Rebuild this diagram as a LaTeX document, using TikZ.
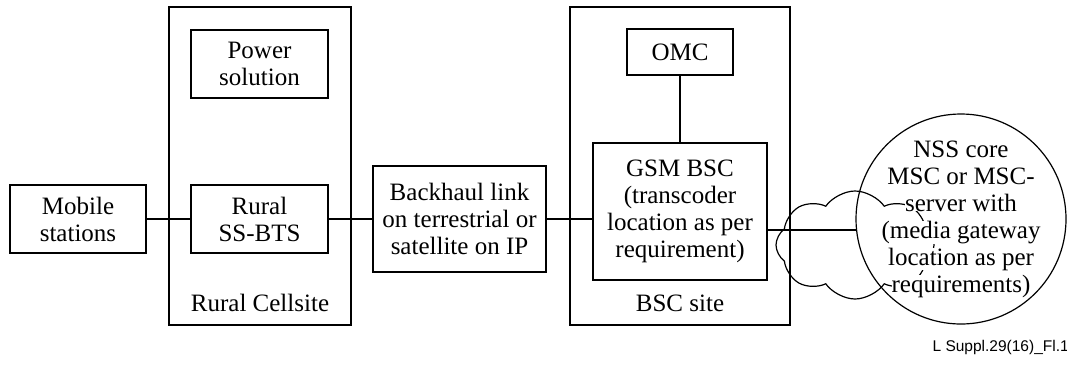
\documentclass[tikz,border=0pt]{standalone}
\usepackage{fontspec}
\setmainfont{Liberation Serif}
\newfontfamily\figfont{Liberation Sans}
\usetikzlibrary{shapes.symbols}
\setlength{\fboxsep}{0pt}
\newcommand\wl[1]{\colorbox{white}{#1}}

\begin{document}
\begin{tikzpicture}
    [x=1pt, y=-1pt, line width=1.2pt,
     box/.style={draw, align=center, inner sep=0pt, font=\fontsize{25}{27}\selectfont},
     site/.style={draw, inner sep=0pt},
     lbl/.style={inner sep=0pt, font=\fontsize{25}{27}\selectfont}]
    \useasboundingbox (0,0) rectangle (1067,365);
    % rural cellsite
    \node[site, minimum width=182pt, minimum height=318pt] (rural) at (260,166) {};
    \node[box, minimum width=137pt, minimum height=68pt] (power) at (259.5,64) {Power\\solution};
    \node[box, minimum width=137pt, minimum height=68pt] (bts) at (259.5,219) {Rural\\SS-BTS};
    \node[lbl] (rlbl) at (260,303) {Rural Cellsite};
    \node[box, minimum width=136pt, minimum height=68pt] (ms) at (78,219) {Mobile\\stations};
    % backhaul
    \node[box, minimum width=173pt, minimum height=106pt] (bh) at (459.5,219) {Backhaul link\\on terrestrial or\\satellite on IP};
    % bsc site
    \node[site, minimum width=220pt, minimum height=318pt] (bss) at (680,166) {};
    \node[box, minimum width=106pt, minimum height=46pt] (omc) at (680,52) {OMC};
    \node[box, minimum width=174pt, minimum height=137pt] (bsc) at (680,211.5) {GSM BSC\\(transcoder\\location as per\\requirement)};
    \node[lbl] (blbl) at (680,303) {BSC site};
    % core network
    \node[cloud, draw, cloud puffs=8, cloud puff arc=110, minimum width=158pt, minimum height=108pt, inner sep=0pt] (cld) at (855,245) {};
    \node[circle, draw, minimum size=210pt, inner sep=0pt] (core) at (961,219) {};
    \node[lbl, align=center] (ctxt) at (core.center) {\wl{NSS core}\\\wl{MSC or MSC-}\\\wl{server with}\\\wl{(media gateway}\\\wl{location as per}\\\wl{requirements)}};
    \draw (ms) -- (bts);
    \draw (bts) -- (bh);
    \draw (bh.east) -- (bh.east -| bsc.west);
    \draw (omc) -- (bsc);
    \draw (bsc.east |- core.186) -- (core.186);
    \node[anchor=base west, inner sep=0pt, font=\figfont\fontsize{15.5}{18}\selectfont] (ref) at (932,351) {L Suppl.29(16)\_Fl.1};
\end{tikzpicture}
\end{document}
